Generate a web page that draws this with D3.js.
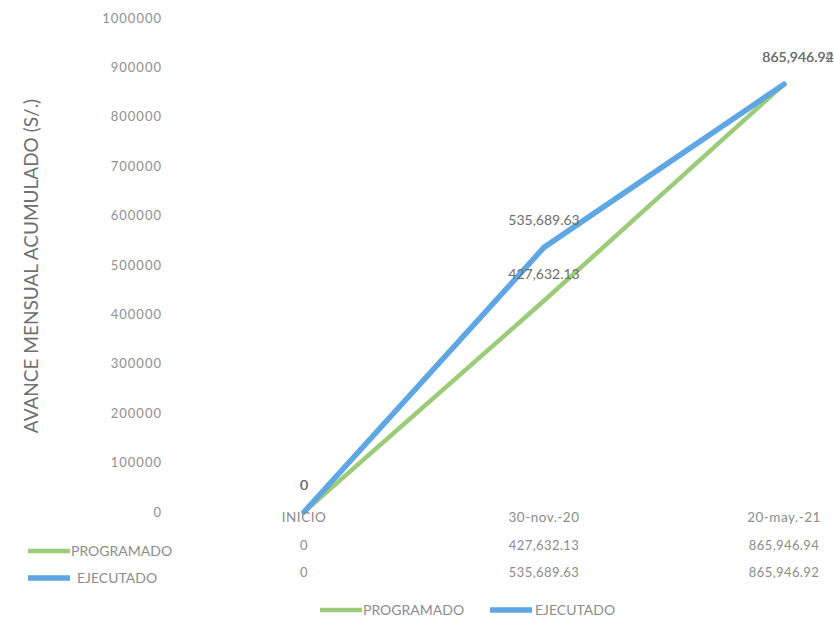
<!DOCTYPE html>
<html><head><meta charset="utf-8">
<script src="https://cdn.jsdelivr.net/npm/d3@7"></script>
<style>
html,body{margin:0;padding:0;background:#fff;}
svg{display:block;font-family:Lato,"Open Sans",sans-serif;}
</style></head>
<body>
<svg id="c" width="834" height="619"></svg>
<script>
const categories = ["INICIO", "30-nov.-20", "20-may.-21"];
const programado = [0, 427632.13, 865946.94];
const ejecutado = [0, 535689.63, 865946.92];
const seriesNames = ["PROGRAMADO", "EJECUTADO"];
const yTicks = [0,100000,200000,300000,400000,500000,600000,700000,800000,900000,1000000];
const yTitle = "AVANCE MENSUAL ACUMULADO (S/.)";

const fmt = v => v === 0 ? "0" : d3.format(",.2f")(v);
const series = [
  {name: seriesNames[0], values: programado, color: "#9ccc7a", width: 4.5},
  {name: seriesNames[1], values: ejecutado, color: "#5ea7e4", width: 5.5}
];

const svg = d3.select("#c");
const x = d3.scaleBand().domain(categories).range([184, 904]);
const xc = c => x(c) + x.bandwidth()/2;
const y = d3.scaleLinear().domain([0, 1000000]).range([512, 18]);

// y axis (no line, only labels)
const yAxis = d3.axisLeft(y).tickValues(yTicks).tickSize(0).tickPadding(0).tickFormat(d3.format("d"));
const gy = svg.append("g").attr("transform", "translate(162,0)").call(yAxis);
gy.select(".domain").remove();
gy.selectAll("text").attr("font-size", 13).attr("letter-spacing", 1).attr("fill", "#909090").attr("font-family", "Lato, sans-serif");

// y title
svg.append("text")
  .attr("transform", "translate(38,266) rotate(-90)")
  .attr("text-anchor", "middle")
  .attr("font-size", 19)
  .attr("fill", "#707070")
  .text(yTitle);

// lines
const line = d3.line().x((d,i) => xc(categories[i])).y(d => y(d));
series.forEach(s => {
  svg.append("path").datum(s.values)
    .attr("d", line)
    .attr("fill", "none")
    .attr("stroke", s.color)
    .attr("stroke-width", s.width)
    .attr("stroke-linecap", "round")
    .attr("stroke-linejoin", "round");
});

// data labels
const labelDx = [0, 0, 14];
series.forEach(s => {
  svg.append("g").selectAll("text").data(s.values).join("text")
    .attr("x", (d,i) => xc(categories[i]) + labelDx[i])
    .attr("y", d => y(d) - 22)
    .attr("text-anchor", "middle")
    .attr("font-size", 14)
    .attr("fill", "#6e6e6e")
    .text(d => fmt(d));
});

// data table
const xTable = d3.axisBottom(x).tickSize(0).tickPadding(0);
const gx = svg.append("g").attr("transform", "translate(0,512)").call(xTable);
gx.select(".domain").remove();
gx.selectAll("text").attr("font-size", 13.5).attr("letter-spacing", 0.5).attr("fill", "#8c8c8c").attr("font-family", "Lato, sans-serif");

const rowY = [545, 572];
series.forEach((s, r) => {
  svg.append("g").selectAll("text").data(s.values).join("text")
    .attr("x", (d,i) => xc(categories[i]))
    .attr("y", rowY[r])
    .attr("dy", "0.35em")
    .attr("text-anchor", "middle")
    .attr("font-size", 13)
    .attr("letter-spacing", 0.4)
    .attr("fill", "#8c8c8c")
    .text(d => fmt(d));
  // table legend key
  svg.append("line").attr("x1", 28).attr("x2", 70).attr("y1", rowY[r]+6).attr("y2", rowY[r]+6)
    .attr("stroke", s.color).attr("stroke-width", s.width);
  svg.append("text").attr("x", r === 0 ? 71 : 77).attr("y", rowY[r]+6).attr("dy", "0.35em")
    .attr("font-size", 14).attr("fill", "#8c8c8c").text(s.name);
});

// bottom legend
const legX = [320, 490];
const legTextX = [363, 535];
series.forEach((s, i) => {
  svg.append("line").attr("x1", legX[i]).attr("x2", legX[i] + 42).attr("y1", 610).attr("y2", 610)
    .attr("stroke", s.color).attr("stroke-width", s.width);
  svg.append("text").attr("x", legTextX[i]).attr("y", 610).attr("dy", "0.35em")
    .attr("font-size", 14).attr("fill", "#8c8c8c").text(s.name);
});
</script>
</body></html>
